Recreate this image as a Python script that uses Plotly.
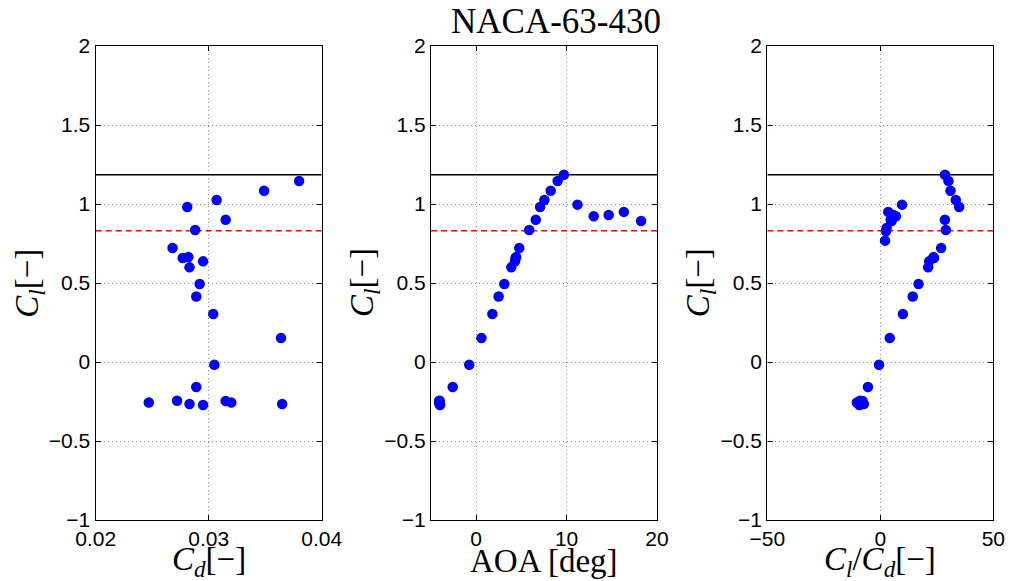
import plotly.graph_objects as go

# ---------------- data ----------------
aoa = [-4.10, -4.05, -4.05, -4.00, -4.10, -4.05, -4.00, -2.60, -0.77, 0.58,
       1.79, 2.48, 3.11, 3.88, 4.30, 4.35, 4.42, 4.76, 5.86, 6.59,
       7.07, 7.54, 8.24, 9.01, 9.70, 11.20, 13.00, 14.65, 16.33, 18.24,
       21.5, 24.0, 26.0, 30.0]
cl = [-0.256, -0.245, -0.266, -0.272, -0.247, -0.256, -0.266, -0.158, -0.017, 0.152,
      0.304, 0.415, 0.494, 0.599, 0.637, 0.658, 0.664, 0.721, 0.835, 0.900,
      0.981, 1.025, 1.084, 1.146, 1.185, 0.996, 0.922, 0.930, 0.950, 0.892,
      0.900, 0.848, 0.827, 0.768]
cd = [0.0247, 0.0272, 0.0283, 0.0295, 0.0315, 0.0320, 0.0365, 0.0289, 0.0305, 0.0364,
      0.0304, 0.0289, 0.0292, 0.0283, 0.0295, 0.0277, 0.0282, 0.0268, 0.0288, 0.0315,
      0.0281, 0.0307, 0.0349, 0.0380, 0.0414, 0.1038, 0.1336, 0.1603, 0.2714, 0.1784,
      0.1957, 0.3029, 0.3308, 0.3657]
cl_cd = [l / d for l, d in zip(cl, cd)]

cl_max = 1.185
cl_design = 0.831

title_text = "NACA-63-430"
x_titles = ["<i>C</i><sub><i>d</i></sub>[−]",
            "AOA [deg]",
            "<i>C</i><sub><i>l</i></sub>/<i>C</i><sub><i>d</i></sub>[−]"]
y_title = "<i>C</i><sub><i>l</i></sub>[−]"

xlims = [[0.02, 0.04], [-5, 20], [-50, 50]]
xtick0 = [0.02, 0, -50]
xdtick = [0.01, 10, 50]
ylim = [-1, 2]
ydtick = 0.5

# ---------------- layout geometry (pixels) ----------------
W, H = 1010, 581
lefts = [95.7, 431.0, 767.3]
pw = 226.0
top, bottom = 46.0, 520.0

fig = go.Figure()
xs_all = [cd, aoa, cl_cd]
for i in range(3):
    xa = "x" if i == 0 else f"x{i+1}"
    ya = "y" if i == 0 else f"y{i+1}"
    fig.add_trace(go.Scatter(x=xlims[i], y=[cl_max, cl_max], mode="lines",
                             line=dict(color="black", width=1.7),
                             xaxis=xa, yaxis=ya, showlegend=False, hoverinfo="skip"))
    fig.add_trace(go.Scatter(x=xlims[i], y=[cl_design, cl_design], mode="lines",
                             line=dict(color="#ff0000", width=1.6, dash="6px,4px"),
                             xaxis=xa, yaxis=ya, showlegend=False, hoverinfo="skip"))
    fig.add_trace(go.Scatter(x=xs_all[i], y=cl, mode="markers",
                             marker=dict(color="#0000ff", size=10.5, line=dict(width=0)),
                             xaxis=xa, yaxis=ya, showlegend=False, cliponaxis=True))

common = dict(showgrid=True, gridcolor="#8c8c8c", griddash="1px,3px", gridwidth=1,
              zeroline=False, showline=True, linecolor="black", linewidth=1.4,
              mirror="ticks", ticks="inside", ticklen=5, tickwidth=1.1, tickcolor="black",
              automargin=False,
              tickfont=dict(family="Liberation Sans, Arial, sans-serif", size=21, color="black"))

layout = dict(width=W, height=H, autosize=False, template="none",
              margin=dict(l=0, r=0, t=0, b=0, pad=0),
              paper_bgcolor="white", plot_bgcolor="white", showlegend=False)

for i in range(3):
    sx = "" if i == 0 else str(i + 1)
    layout["xaxis" + sx] = dict(common, domain=[lefts[i] / W, (lefts[i] + pw) / W],
                                range=xlims[i], tick0=xtick0[i], dtick=xdtick[i],
                                anchor="y" + sx)
    layout["yaxis" + sx] = dict(common, domain=[1 - bottom / H, 1 - top / H],
                                range=ylim, tick0=0, dtick=ydtick,
                                anchor="x" + sx)

serif = "Liberation Serif, Times New Roman, serif"
ann = []
ann.append(dict(text=title_text, x=556 / W, y=1 - 22 / H, xref="paper", yref="paper",
                xanchor="center", yanchor="middle", showarrow=False,
                font=dict(family=serif, size=35, color="black")))
for i in range(3):
    cx = lefts[i] + pw / 2
    ann.append(dict(text=x_titles[i], x=cx / W, y=1 - 561 / H, xref="paper", yref="paper",
                    xanchor="center", yanchor="middle", showarrow=False,
                    font=dict(family=serif, size=33, color="black")))
    ann.append(dict(text=y_title, x=(lefts[i] - 67) / W, y=1 - 283 / H,
                    xref="paper", yref="paper", textangle=-90,
                    xanchor="center", yanchor="middle", showarrow=False,
                    font=dict(family=serif, size=33, color="black")))
layout["annotations"] = ann

fig.update_layout(**layout)
fig.write_html("out.html")
